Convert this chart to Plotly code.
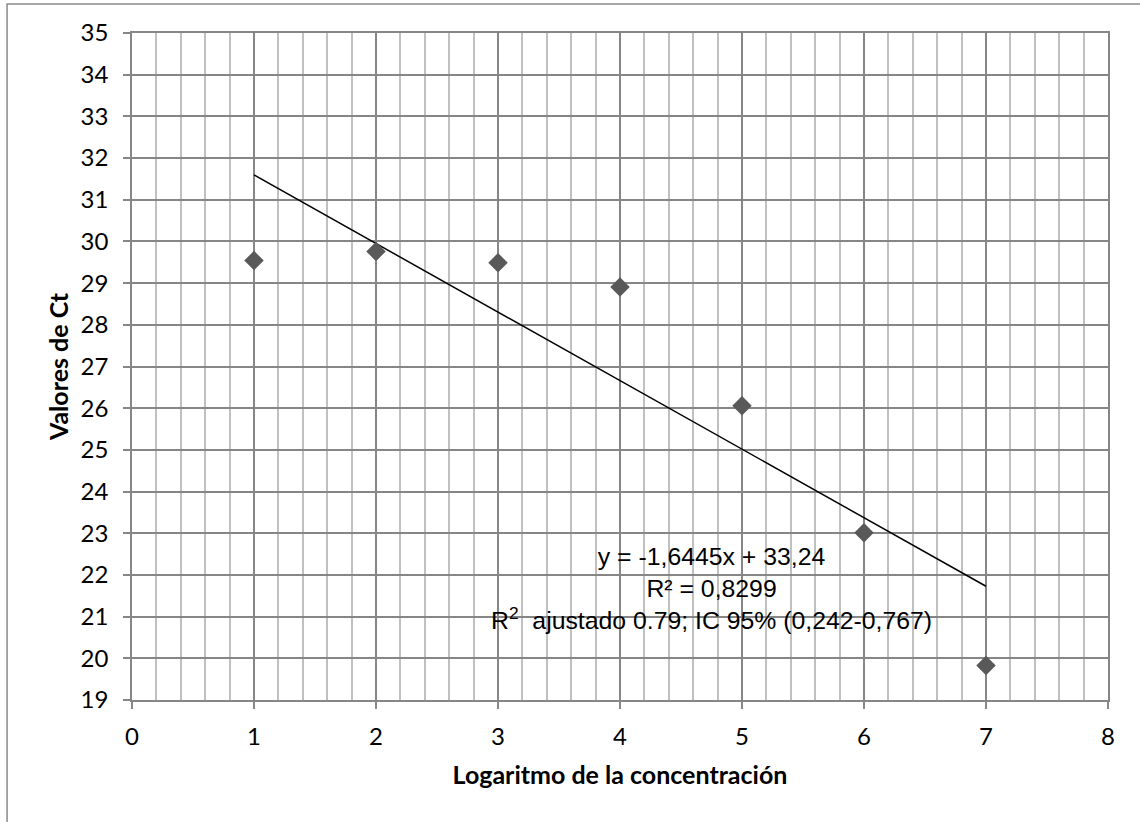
import plotly.graph_objects as go

log_conc = [1, 2, 3, 4, 5, 6, 7]
ct_values = [29.54, 29.76, 29.49, 28.91, 26.06, 23.01, 19.83]
slope = -1.6445
intercept = 33.24
trend_x = [1, 7]
trend_y = [slope * v + intercept for v in trend_x]

eq_lines = [
    "y = -1,6445x + 33,24",
    "R² = 0,8299",
    "R<sup>2</sup>&nbsp; ajustado 0.79; IC 95% (0,242-0,767)",
]

MAJOR = "#868686"
MINOR = "#c0c0c0"
TICKFONT = dict(family="Lato, Open Sans, sans-serif", size=24, color="#000000")
TITLEFONT = dict(family="Lato, Open Sans, sans-serif", size=25, color="#000000", weight="bold")

fig = go.Figure()
fig.add_trace(go.Scatter(
    x=trend_x, y=trend_y, mode="lines",
    line=dict(color="#000000", width=1.5), showlegend=False, hoverinfo="skip"))
fig.add_trace(go.Scatter(
    x=log_conc, y=ct_values, mode="markers",
    marker=dict(symbol="diamond", size=15, color="#595959", line=dict(width=0)),
    showlegend=False))

fig.add_annotation(
    x=4.75, y=21.68, xref="x", yref="y",
    text="<br>".join(eq_lines), showarrow=False,
    xanchor="center", yanchor="middle", align="center",
    font=dict(family="Liberation Sans, Arial, sans-serif", size=24.8, color="#000000"))

fig.add_shape(type="rect", xref="paper", yref="paper",
              x0=-0.128, x1=1.04, y0=-0.2, y1=1.0434,
              line=dict(color="#8a8a8a", width=1.5), fillcolor="rgba(0,0,0,0)", layer="below")

fig.update_layout(
    width=1140, height=822,
    margin=dict(l=132, r=32, t=33, b=121.5),
    paper_bgcolor="#ffffff", plot_bgcolor="#ffffff",
    xaxis=dict(
        range=[0, 8], dtick=1, tick0=0,
        showgrid=True, gridcolor=MAJOR, gridwidth=1.5,
        minor=dict(dtick=0.2, tick0=0, showgrid=True, gridcolor=MINOR, gridwidth=1.5, ticks=""),
        ticks="outside", ticklen=7, tickcolor=MAJOR, tickwidth=1.5,
        showline=True, linecolor=MAJOR, linewidth=1.5, mirror=True,
        zeroline=False, tickfont=TICKFONT, ticklabelstandoff=7,
        title=dict(text="Logaritmo de la concentración", font=TITLEFONT, standoff=18),
    ),
    yaxis=dict(
        range=[19, 35], dtick=1, tick0=19,
        showgrid=True, gridcolor=MAJOR, gridwidth=1.5,
        ticks="outside", ticklen=7, tickcolor=MAJOR, tickwidth=1.5,
        showline=True, linecolor=MAJOR, linewidth=1.5, mirror=True,
        zeroline=False, tickfont=TICKFONT, ticklabelstandoff=10,
        title=dict(text="Valores de Ct", font=TITLEFONT, standoff=5),
    ),
)

fig.write_html("out.html")
